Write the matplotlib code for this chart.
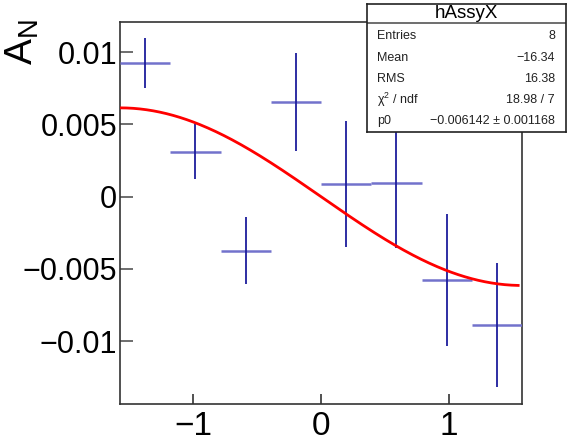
#!/usr/bin/env python3
"""ROOT-style asymmetry histogram hAssyX with p0*sin(x) fit and stats box."""

import matplotlib as mpl
import matplotlib.pyplot as plt
import numpy as np

# data
bin_edges = np.linspace(-np.pi / 2, np.pi / 2, 9)
asym = [0.00925, 0.00311, -0.00373, 0.00653, 0.00086, 0.00093, -0.00576, -0.00887]
asym_err = [0.00171, 0.00192, 0.00234, 0.00338, 0.00436, 0.00450, 0.00454, 0.00427]
fit_p0 = -0.006142

x_ticks = [-1, 0, 1]
y_ticks = [-0.01, -0.005, 0, 0.005, 0.01]
y_ticklabels = ["\u22120.01", "\u22120.005", "0", "0.005", "0.01"]

stats_title = "hAssyX"
stats_names = ["Entries", "Mean", "RMS", r"$\chi^2$ / ndf", "p0"]
stats_values = ["8", "\u221216.34", "16.38", "18.98 / 7", "\u22120.006142 \u00b1 0.001168"]

mpl.rcParams.update(
    {
        "font.family": ["Liberation Sans", "DejaVu Sans"],
        "mathtext.default": "regular",
        "axes.linewidth": 1.2,
    }
)

fig = plt.figure(figsize=(5.68, 4.44), dpi=100)
ax = fig.add_axes([120 / 568, 1 - 404 / 444, 402 / 568, 382 / 444])

centers = 0.5 * (bin_edges[:-1] + bin_edges[1:])
ax.hlines(asym, bin_edges[:-1], bin_edges[1:], color="#7272cc", linewidth=1.8, zorder=3)
ax.vlines(centers, np.subtract(asym, asym_err), np.add(asym, asym_err),
          color="#1c1c9c", linewidth=1.3, zorder=3)

x_fit = np.linspace(bin_edges[0], bin_edges[-1] - 0.03, 300)
ax.plot(x_fit, fit_p0 * np.sin(x_fit), color="red", linewidth=2.0, zorder=4)

ax.set_xlim(bin_edges[0], bin_edges[-1])
ax.set_ylim(-0.01434, 0.01208)
ax.set_xticks(x_ticks, ["\u22121", "0", "1"])
ax.set_yticks(y_ticks, y_ticklabels)
ax.tick_params(axis="y", direction="in", length=9, width=1.2, labelsize=22, pad=2, color="#555555")
ax.tick_params(axis="x", direction="in", length=7.5, width=1.2, labelsize=24, pad=5, color="#333333")
for side in ("top", "right", "left", "bottom"):
    ax.spines[side].set_color("#333333")

fig.text(22 / 568, 1 - 19 / 444, "$A_N$", rotation=90, ha="center", va="top", fontsize=28)

# stats box
box = fig.add_axes([367 / 568, 1 - 132 / 444, 199 / 568, 128 / 444], zorder=10)
box.set_xticks([])
box.set_yticks([])
box.set_xlim(0, 1)
box.set_ylim(0, 1)
for spine in box.spines.values():
    spine.set_linewidth(1.2)
    spine.set_color("#222222")
box.axhline(0.85, color="#555555", linewidth=1.2)
box.text(0.5, 0.925, stats_title, ha="center", va="center", fontsize=13.5)
row_y = [0.75, 0.58, 0.415, 0.25, 0.085]
for name, value, y in zip(stats_names, stats_values, row_y):
    box.text(0.05, y, name, ha="left", va="center", fontsize=9, color="#222222")
    box.text(0.945, y, value, ha="right", va="center", fontsize=9, color="#222222")

fig.savefig("out.png", dpi=100)
